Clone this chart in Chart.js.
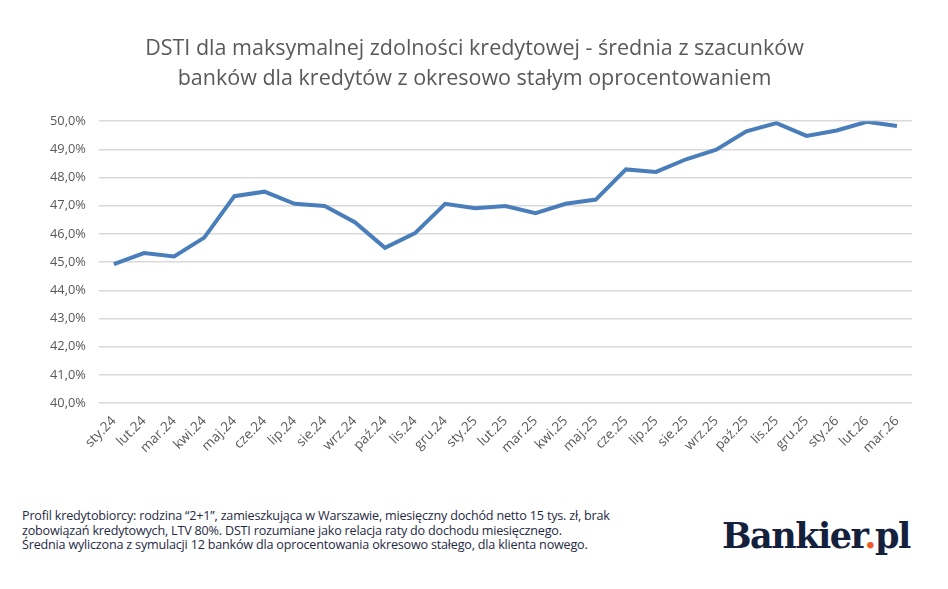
<!DOCTYPE html>
<html lang="pl">
<head>
<meta charset="utf-8">
<script src="https://cdn.jsdelivr.net/npm/chart.js@4"></script>
<style>
  html, body { margin: 0; padding: 0; background: #fff; }
  #wrap { position: relative; width: 948px; height: 589px; }
  #chartBox { position: absolute; left: 0; top: 0; width: 948px; height: 458px; }
  #note {
    position: absolute; left: 22px; top: 509px;
    font-family: "Open Sans", sans-serif; font-size: 12.6px; line-height: 14.6px;
    color: #1f2a44; letter-spacing: -0.2px;
  }
  #logo {
    position: absolute; left: 722px; top: 515px;
    font-family: "DejaVu Serif", serif; font-weight: bold; font-size: 35px;
    color: #14213d; letter-spacing: -1.5px;
  }
  #logo span { color: #f05a28; }
</style>
</head>
<body>
<div id="wrap">
  <div id="chartBox"><canvas id="dstiChart"></canvas></div>
  <div id="note">Profil kredytobiorcy: rodzina “2+1”, zamieszkująca w Warszawie, miesięczny dochód netto 15 tys. zł, brak<br>zobowiązań kredytowych, LTV 80%. DSTI rozumiane jako relacja raty do dochodu miesięcznego.<br>Średnia wyliczona z symulacji 12 banków dla oprocentowania okresowo stałego, dla klienta nowego.</div>
  <div id="logo">Bankier<span>.</span>pl</div>
</div>
<script>
// Months on the x axis
const months = [
    'sty.24', 'lut.24', 'mar.24', 'kwi.24', 'maj.24', 'cze.24', 'lip.24', 'sie.24', 'wrz.24',
    'paź.24', 'lis.24', 'gru.24', 'sty.25', 'lut.25', 'mar.25', 'kwi.25', 'maj.25', 'cze.25',
    'lip.25', 'sie.25', 'wrz.25', 'paź.25', 'lis.25', 'gru.25', 'sty.26', 'lut.26', 'mar.26'
];

// Average DSTI (%)
const dstiValues = [
    44.93, 45.32, 45.20, 45.87, 47.34, 47.50, 47.07, 46.99, 46.42,
    45.51, 46.03, 47.07, 46.91, 46.99, 46.74, 47.07, 47.22, 48.29,
    48.20, 48.65, 48.99, 49.64, 49.93, 49.48, 49.67, 49.98, 49.83
];

// Y axis range
const yMin = 40;
const yMax = 50;

const titleLines = [
    'DSTI dla maksymalnej zdolności kredytowej - średnia z szacunków',
    'banków dla kredytów z okresowo stałym oprocentowaniem'
];

document.addEventListener('DOMContentLoaded', function() {
    const ctx = document.getElementById('dstiChart').getContext('2d');
    new Chart(ctx, {
        type: 'line',
        data: {
            labels: months,
            datasets: [{
                data: dstiValues,
                borderColor: '#4a7ebb',
                borderWidth: 4,
                pointRadius: 0,
                tension: 0,
                fill: false
            }]
        },
        options: {
            responsive: true,
            maintainAspectRatio: false,
            animation: false,
            layout: {
                padding: { left: 37, right: 36, top: 34, bottom: 0 }
            },
            plugins: {
                legend: { display: false },
                tooltip: { enabled: false },
                title: {
                    display: true,
                    text: titleLines,
                    color: '#595959',
                    font: { family: 'Open Sans', size: 21.5, weight: 'normal', lineHeight: 1.4 },
                    padding: { top: 0, bottom: 27 }
                }
            },
            scales: {
                x: {
                    offset: true,
                    grid: { display: false },
                    border: { display: false },
                    ticks: {
                        color: '#595959',
                        font: { family: 'Open Sans', size: 13.5 },
                        maxRotation: 45,
                        minRotation: 45,
                        autoSkip: false,
                        padding: 2
                    }
                },
                y: {
                    min: yMin,
                    max: yMax,
                    grid: { color: '#d9d9d9', lineWidth: 1.5, drawTicks: false },
                    border: { display: false },
                    ticks: {
                        stepSize: 1,
                        color: '#595959',
                        font: { family: 'Open Sans', size: 12.8 },
                        padding: 13,
                        callback: function(value) {
                            return value.toFixed(1).replace('.', ',') + '%';
                        }
                    }
                }
            }
        }
    });
});
</script>
</body>
</html>
